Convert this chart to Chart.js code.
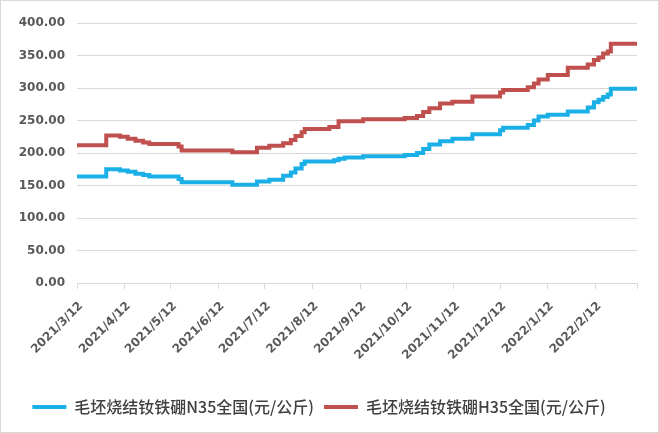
<!DOCTYPE html>
<html>
<head>
<meta charset="utf-8">
<script src="https://cdn.jsdelivr.net/npm/chart.js@4/dist/chart.umd.min.js"></script>
<style>
  html, body { margin: 0; padding: 0; background: #ffffff; }
  #wrap { width: 659px; height: 433px; box-sizing: border-box; border: 1px solid #d9d9d9; background: #fff; }
  #c { display: block; }
</style>
</head>
<body>
<div id="wrap"><canvas id="c" width="657" height="431"></canvas></div>
<script>
// Day offsets from 2021/3/12 at which prices change
const changeDays = [0, 19, 28, 33, 38, 43, 47, 66, 68, 101, 117, 125, 134, 139, 142, 146, 148,
  164, 167, 170, 174, 186, 213, 221, 225, 229, 236, 244, 257, 275, 277, 293, 297, 300, 306, 319,
  332, 336, 339, 342, 345, 347, 364];
// 毛坯烧结钕铁硼N35全国 (元/公斤)
const n35Values = [164, 175, 173, 171, 168, 166, 164, 160, 155, 151, 156, 159, 165, 170, 176, 183, 187,
  187, 189, 191, 193, 195, 197, 200, 206, 213, 218, 222, 229, 235, 239, 243, 250, 256, 259, 264,
  270, 278, 282, 286, 290, 299, 299];
// 毛坯烧结钕铁硼H35全国 (元/公斤)
const h35Values = [212, 227, 225, 222, 219, 216, 214, 210, 204, 201, 208, 211, 215, 220, 226, 232, 237,
  240, 240, 249, 249, 252, 254, 257, 263, 269, 276, 279, 287, 293, 297, 301, 307, 313, 320, 331,
  336, 343, 347, 353, 356, 368, 368];
// X-axis tick positions (days) and labels
const tickDays = [0, 31, 61, 92, 122, 153, 184, 214, 245, 275, 306, 337, 364];
const tickLabels = ['2021/3/12', '2021/4/12', '2021/5/12', '2021/6/12', '2021/7/12', '2021/8/12',
  '2021/9/12', '2021/10/12', '2021/11/12', '2021/12/12', '2022/1/12', '2022/2/12', ''];
const seriesNames = ['毛坯烧结钕铁硼N35全国(元/公斤)', '毛坯烧结钕铁硼H35全国(元/公斤)'];

const toPoints = vals => changeDays.map((d, i) => ({ x: d, y: vals[i] }));
const axisFont = { family: 'DejaVu Sans', size: 12, weight: 'bold' };
const axisColor = '#595959';

new Chart(document.getElementById('c'), {
  type: 'line',
  data: {
    datasets: [
      { label: seriesNames[0], data: toPoints(n35Values), borderColor: '#1AAFE6', backgroundColor: '#1AAFE6',
        borderWidth: 4, pointRadius: 0, stepped: true, fill: false },
      { label: seriesNames[1], data: toPoints(h35Values), borderColor: '#C0504D', backgroundColor: '#C0504D',
        borderWidth: 4, pointRadius: 0, stepped: true, fill: false }
    ]
  },
  options: {
    responsive: false,
    animation: false,
    layout: { padding: { left: 0, right: 21, top: 22, bottom: 7 } },
    plugins: {
      tooltip: { enabled: false },
      legend: {
        position: 'bottom',
        labels: {
          boxWidth: 34,
          boxHeight: 4,
          padding: 10,
          color: '#404040',
          font: { family: '"Noto Sans CJK SC", sans-serif', size: 16, weight: '500' },
          generateLabels(chart) {
            return Chart.defaults.plugins.legend.labels.generateLabels(chart).map(it => {
              it.lineWidth = 0;
              return it;
            });
          }
        }
      }
    },
    scales: {
      x: {
        type: 'linear',
        min: 0,
        max: 364,
        afterBuildTicks(scale) { scale.ticks = tickDays.map(v => ({ value: v })); },
        afterFit(scale) { scale.height = 106; },
        grid: { drawOnChartArea: false, drawTicks: true, tickLength: 6, color: '#d9d9d9' },
        border: { display: true, color: '#d9d9d9' },
        ticks: {
          autoSkip: false,
          maxRotation: 45,
          minRotation: 45,
          padding: 10,
          labelOffset: 4,
          color: axisColor,
          font: axisFont,
          callback(value, index) { return tickLabels[index]; }
        }
      },
      y: {
        min: 0,
        max: 400,
        afterFit(scale) { scale.width = 76; },
        grid: { color: '#d9d9d9', drawTicks: false },
        border: { display: false },
        ticks: {
          stepSize: 50,
          padding: 12,
          color: axisColor,
          font: axisFont,
          callback(v) { return Number(v).toFixed(2); }
        }
      }
    }
  }
});
</script>
</body>
</html>
